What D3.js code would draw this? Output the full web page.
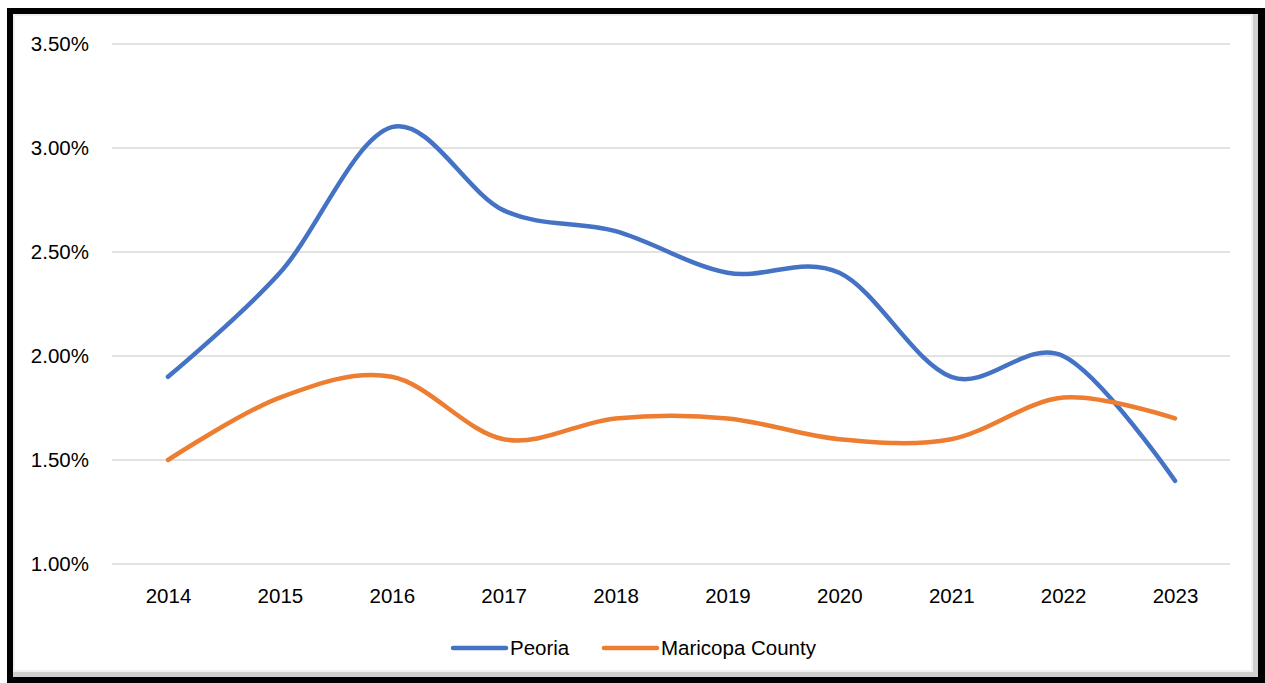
<!DOCTYPE html>
<html><head><meta charset="utf-8">
<script src="https://cdn.jsdelivr.net/npm/d3@7"></script>
<style>body{margin:0;background:#fff;}svg{display:block;font-family:"Liberation Sans",sans-serif;}</style>
</head><body>
<svg id="c" width="1265" height="683"></svg>
<script>
const years = ["2014","2015","2016","2017","2018","2019","2020","2021","2022","2023"];
const peoria = [1.9, 2.4, 3.1, 2.7, 2.6, 2.4, 2.4, 1.9, 2.0, 1.4];
const maricopa = [1.5, 1.8, 1.9, 1.6, 1.7, 1.7, 1.6, 1.6, 1.8, 1.7];
const yTicks = [1.0, 1.5, 2.0, 2.5, 3.0, 3.5];
const seriesNames = ["Peoria", "Maricopa County"];
const colors = ["#4472C4", "#ED7D31"];
const FS = 20.5;

const svg = d3.select("#c");
// frame
svg.append("rect").attr("x",7).attr("y",8).attr("width",1258).attr("height",675).attr("fill","#000");
svg.append("rect").attr("x",13).attr("y",14).attr("width",1245).attr("height",663).attr("fill","#cfcfcf");
svg.append("rect").attr("x",13).attr("y",14).attr("width",1240).attr("height",658).attr("fill","#f0f0f0");
svg.append("rect").attr("x",15).attr("y",16).attr("width",1236).attr("height",654).attr("fill","#fff");

const x = d3.scalePoint().domain(years).range([168, 1175]);
const y = d3.scaleLinear().domain([1.0, 3.5]).range([564, 44]);

const grid = svg.append("g");
grid.selectAll("line").data(yTicks).join("line")
  .attr("x1",112).attr("x2",1230)
  .attr("y1",d=>y(d)).attr("y2",d=>y(d))
  .attr("stroke","#d9d9d9").attr("stroke-width",1.5);

const yAxis = d3.axisLeft(y).tickValues(yTicks).tickSize(0).tickPadding(0).tickFormat(d=>d.toFixed(2)+"%");
const ga = svg.append("g").attr("transform","translate(89,0)").call(yAxis);
ga.select(".domain").remove();
ga.selectAll("text").attr("font-size",FS).attr("fill","#000").attr("font-family","Liberation Sans, sans-serif");

const xAxis = d3.axisBottom(x).tickSize(0).tickPadding(0);
const gx = svg.append("g").attr("transform","translate(0,588)").call(xAxis);
gx.select(".domain").remove();
gx.selectAll("text").attr("font-size",FS).attr("fill","#000").attr("font-family","Liberation Sans, sans-serif");

const line = d3.line().x((d,i)=>x(years[i])).y(d=>y(d)).curve(d3.curveCardinal.tension(0));
[peoria, maricopa].forEach((s,i)=>{
  svg.append("path").attr("d",line(s)).attr("fill","none").attr("stroke",colors[i])
    .attr("stroke-width",4.5).attr("stroke-linecap","round").attr("stroke-linejoin","round");
});

const legendX = [453, 604];
seriesNames.forEach((n,i)=>{
  const g = svg.append("g");
  g.append("line").attr("x1",legendX[i]).attr("x2",legendX[i]+53).attr("y1",648).attr("y2",648)
    .attr("stroke",colors[i]).attr("stroke-width",4.5).attr("stroke-linecap","round");
  g.append("text").attr("x",legendX[i]+57).attr("y",648).attr("dy","0.35em")
    .attr("font-size",FS).text(n);
});
</script>
</body></html>
